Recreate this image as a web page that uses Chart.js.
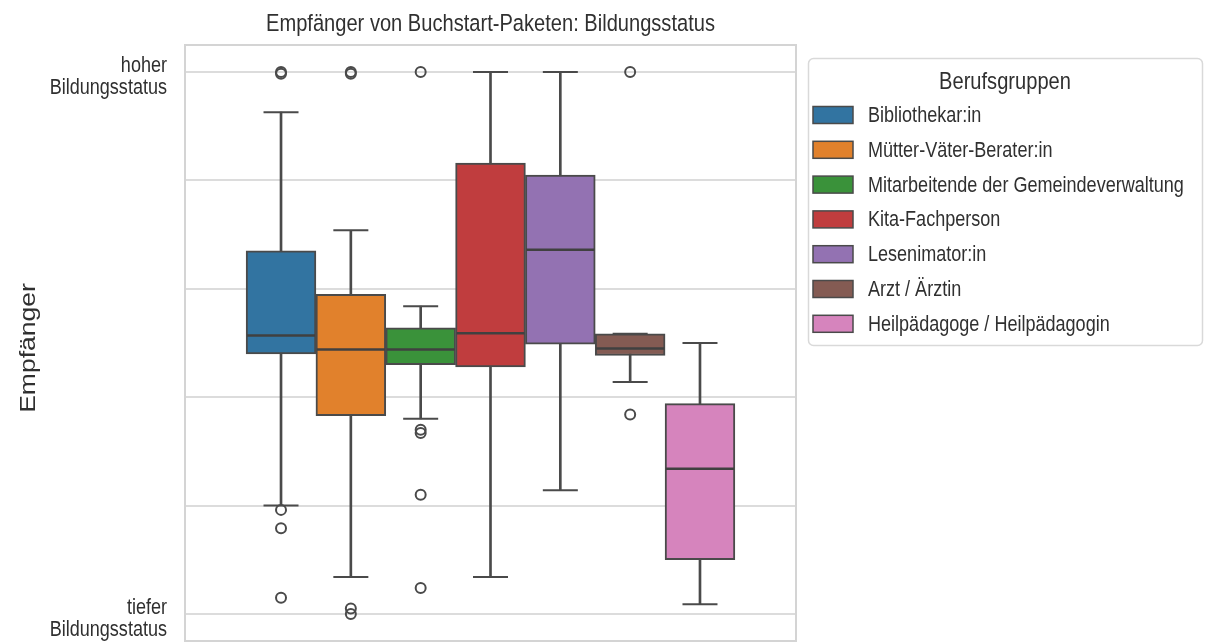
<!DOCTYPE html>
<html>
<head>
<meta charset="utf-8">
<script src="https://cdn.jsdelivr.net/npm/chart.js@4.4.1/dist/chart.umd.min.js"></script>
<style>
  html, body { margin: 0; padding: 0; background: #fff; overflow: hidden; }
  canvas { display: block; }
</style>
</head>
<body>
<canvas id="myChart" width="1205" height="643"></canvas>
<script>
// Berufsgruppen (hue)
var groups = ['Bibliothekar:in', 'Mütter-Väter-Berater:in', 'Mitarbeitende der Gemeindeverwaltung',
  'Kita-Fachperson', 'Lesenimator:in', 'Arzt / Ärztin', 'Heilpädagoge / Heilpädagogin'];
var colors = ['#3274a1', '#e1812c', '#3a923a', '#c03d3e', '#9372b2', '#845b53', '#d684bd'];

// box statistics, 1 = tiefer ... 6 = hoher Bildungsstatus
var whiskerLow  = [2.00, 1.34, 2.80, 1.34, 2.14, 3.14, 1.09];
var q1          = [3.40, 2.83, 3.30, 3.28, 3.49, 3.385, 1.50];
var median      = [3.57, 3.44, 3.44, 3.59, 4.36, 3.45, 2.34];
var q3          = [4.35, 3.95, 3.64, 5.16, 5.05, 3.585, 2.94];
var whiskerHigh = [5.63, 4.54, 3.84, 6.00, 6.00, 3.585, 3.50];
var outliers = [
  [6.0, 5.985, 1.96, 1.79, 1.15],
  [6.0, 5.985, 1.05, 1.0],
  [6.0, 2.70, 2.67, 2.10, 1.24],
  [],
  [],
  [6.0, 2.84],
  []
];

var tickValues = [1, 2, 3, 4, 5, 6];
var tickLabels = [['tiefer', 'Bildungsstatus'], '', '', '', '', ['hoher', 'Bildungsstatus']];

var title = 'Empfänger von Buchstart-Paketen: Bildungsstatus';
var yTitle = 'Empfänger';
var legendTitle = 'Berufsgruppen';

var lineColor = '#4a4a4a';
var textColor = '#303030';
var fontFamily = "'Liberation Sans', Arial, sans-serif";
var squeeze = 0.82; // the reference text is horizontally narrow

function drawText(ctx, text, x, y, size, align) {
  ctx.save();
  ctx.translate(x, y);
  ctx.scale(squeeze, 1);
  ctx.font = size + 'px ' + fontFamily;
  ctx.fillStyle = textColor;
  ctx.textAlign = align;
  ctx.textBaseline = 'middle';
  ctx.fillText(text, 0, 0);
  ctx.restore();
}

// title, y labels, y title and legend
var texts = {
  id: 'texts',
  afterDraw: function (chart) {
    var ctx = chart.ctx;
    var a = chart.chartArea;
    var y = chart.scales.y;

    drawText(ctx, title, (a.left + a.right) / 2, 24, 24.5, 'center');

    tickValues.forEach(function (v, i) {
      var lab = tickLabels[i];
      if (!lab) return;
      var py = y.getPixelForValue(v);
      drawText(ctx, lab[0], a.left - 18, py - 6, 22, 'right');
      drawText(ctx, lab[1], a.left - 18, py + 16, 22, 'right');
    });

    ctx.save();
    ctx.translate(29, (a.top + a.bottom) / 2 + 5);
    ctx.scale(squeeze, 1);
    ctx.rotate(-Math.PI / 2);
    ctx.font = '26.5px ' + fontFamily;
    ctx.fillStyle = textColor;
    ctx.textAlign = 'center';
    ctx.textBaseline = 'middle';
    ctx.fillText(yTitle, 0, 0);
    ctx.restore();

    // legend
    ctx.save();
    ctx.beginPath();
    ctx.roundRect(808.5, 58.5, 394, 287, 5);
    ctx.fillStyle = '#ffffff';
    ctx.fill();
    ctx.strokeStyle = '#d9d9d9';
    ctx.lineWidth = 1.5;
    ctx.stroke();
    ctx.restore();

    drawText(ctx, legendTitle, 1005, 82, 24.5, 'center');
    for (var i = 0; i < groups.length; i++) {
      var ly = 115 + i * 34.8;
      ctx.save();
      ctx.fillStyle = colors[i];
      ctx.fillRect(813, ly - 8.5, 40, 17);
      ctx.strokeStyle = lineColor;
      ctx.lineWidth = 1.5;
      ctx.strokeRect(813, ly - 8.5, 40, 17);
      ctx.restore();
      drawText(ctx, groups[i], 868, ly + 1, 22, 'left');
    }
  }
};

// frame around the axes
var frame = {
  id: 'frame',
  beforeDatasetsDraw: function (chart) {
    var a = chart.chartArea;
    var ctx = chart.ctx;
    ctx.save();
    ctx.strokeStyle = '#d4d4d4';
    ctx.lineWidth = 2;
    ctx.strokeRect(a.left, a.top, a.right - a.left, a.bottom - a.top);
    ctx.restore();
  }
};

var boxData = groups.map(function (g, i) { return { x: i, y: [q1[i], q3[i]] }; });
var whiskerData = groups.map(function (g, i) { return { x: i, y: [whiskerLow[i], whiskerHigh[i]] }; });
var medianData = groups.map(function (g, i) { return { x: i, y: median[i] }; });
var capData = [];
groups.forEach(function (g, i) {
  capData.push({ x: i, y: whiskerLow[i] });
  capData.push({ x: i, y: whiskerHigh[i] });
});
var outlierData = [];
outliers.forEach(function (arr, i) {
  arr.forEach(function (v) { outlierData.push({ x: i, y: v }); });
});

var ctx = document.getElementById('myChart').getContext('2d');
var myChart = new Chart(ctx, {
  type: 'bar',
  data: {
    datasets: [
      {
        type: 'scatter',
        label: 'Ausreisser',
        data: outlierData,
        pointStyle: 'circle',
        pointRadius: 5,
        borderWidth: 2,
        borderColor: lineColor,
        backgroundColor: 'rgba(0,0,0,0)',
        order: 0
      },
      {
        type: 'scatter',
        label: 'Median',
        data: medianData,
        pointStyle: 'line',
        pointRadius: 34,
        borderWidth: 2.5,
        borderColor: '#404040',
        order: 1
      },
      {
        type: 'scatter',
        label: 'Caps',
        data: capData,
        pointStyle: 'line',
        pointRadius: 17.5,
        borderWidth: 2,
        borderColor: lineColor,
        order: 2
      },
      {
        label: 'Box',
        data: boxData,
        backgroundColor: colors,
        borderColor: lineColor,
        borderWidth: 2,
        borderSkipped: false,
        grouped: false,
        barPercentage: 1,
        categoryPercentage: 1,
        order: 5
      },
      {
        label: 'Whisker',
        data: whiskerData,
        backgroundColor: lineColor,
        borderWidth: 0,
        barThickness: 2,
        grouped: false,
        order: 10
      }
    ]
  },
  options: {
    responsive: false,
    animation: false,
    events: [],
    layout: {
      autoPadding: false,
      padding: { left: 0, right: 409, top: 45, bottom: 2 }
    },
    plugins: {
      legend: { display: false },
      tooltip: { enabled: false },
      title: { display: false }
    },
    scales: {
      x: {
        type: 'linear',
        min: -1.375,
        max: 7.375,
        offset: false,
        display: false
      },
      y: {
        type: 'linear',
        min: 0.75,
        max: 6.25,
        afterBuildTicks: function (axis) {
          axis.ticks = tickValues.map(function (v) { return { value: v }; });
        },
        afterFit: function (axis) { axis.width = 185; },
        grid: { color: '#dcdcdc', lineWidth: 2, drawTicks: false },
        border: { display: false },
        ticks: { display: false },
        title: { display: false }
      }
    }
  },
  plugins: [frame, texts]
});
</script>
</body>
</html>
